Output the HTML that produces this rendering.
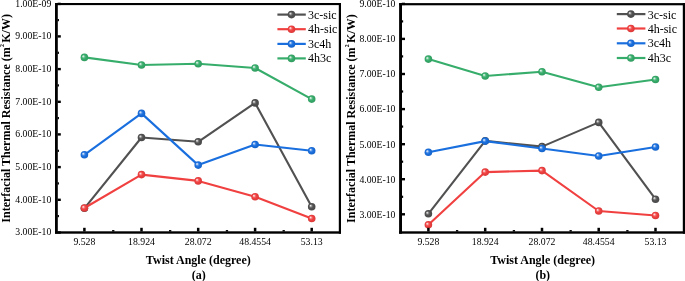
<!DOCTYPE html>
<html lang="en"><head><meta charset="utf-8"><title>Interfacial Thermal Resistance vs Twist Angle</title>
<style>html,body{margin:0;padding:0;background:#fff}body{width:685px;height:281px;overflow:hidden}svg{display:block;filter:blur(0.3px)}
text{font-family:"Liberation Serif","Times New Roman",serif;fill:#000}.tk{font-size:9.75px}.lg{font-size:12px}.ti{font-size:12px;font-weight:bold}</style></head><body>
<svg width="700" height="291" viewBox="0 0 700 291">
<defs>
<radialGradient id="sk" cx="0.5" cy="0.5" r="0.55" fx="0.32" fy="0.33"><stop offset="0" stop-color="#f1f1f1"/><stop offset="0.15" stop-color="#c7c7c7"/><stop offset="0.32" stop-color="#777777"/><stop offset="0.52" stop-color="#515151"/><stop offset="1" stop-color="#474747"/></radialGradient>
<radialGradient id="sr" cx="0.5" cy="0.5" r="0.55" fx="0.32" fy="0.33"><stop offset="0" stop-color="#fef0f0"/><stop offset="0.15" stop-color="#fbc2c2"/><stop offset="0.32" stop-color="#f46a6a"/><stop offset="0.52" stop-color="#F14040"/><stop offset="1" stop-color="#d43838"/></radialGradient>
<radialGradient id="sb" cx="0.5" cy="0.5" r="0.55" fx="0.32" fy="0.33"><stop offset="0" stop-color="#edf3fc"/><stop offset="0.15" stop-color="#b6d1f5"/><stop offset="0.32" stop-color="#4c8fe6"/><stop offset="0.52" stop-color="#1A6FDF"/><stop offset="1" stop-color="#1762c4"/></radialGradient>
<radialGradient id="sg" cx="0.5" cy="0.5" r="0.55" fx="0.32" fy="0.33"><stop offset="0" stop-color="#eff8f3"/><stop offset="0.15" stop-color="#bfe5d0"/><stop offset="0.32" stop-color="#63bf8c"/><stop offset="0.52" stop-color="#37AD6B"/><stop offset="1" stop-color="#30985e"/></radialGradient>
<radialGradient id="hl" cx="0.5" cy="0.5" r="0.5"><stop offset="0" stop-color="#fff" stop-opacity="0.85"/><stop offset="0.45" stop-color="#fff" stop-opacity="0.6"/><stop offset="1" stop-color="#fff" stop-opacity="0"/></radialGradient>
</defs>
<rect width="700" height="291" fill="#fff"/>
<g>
<polyline points="84.40,208.30 141.50,137.50 198.20,141.80 255.10,102.90 311.70,206.80" fill="none" stroke="#515151" stroke-width="2.1" stroke-linejoin="round"/>
<circle cx="84.40" cy="208.30" r="3.80" fill="url(#sk)"/>
<circle cx="141.50" cy="137.50" r="3.80" fill="url(#sk)"/>
<circle cx="198.20" cy="141.80" r="3.80" fill="url(#sk)"/>
<circle cx="255.10" cy="102.90" r="3.80" fill="url(#sk)"/>
<circle cx="311.70" cy="206.80" r="3.80" fill="url(#sk)"/>
<polyline points="84.40,208.00 141.50,174.60 198.20,180.90 255.10,196.80 311.70,218.50" fill="none" stroke="#F14040" stroke-width="2.1" stroke-linejoin="round"/>
<circle cx="84.40" cy="208.00" r="3.80" fill="url(#sr)"/>
<circle cx="141.50" cy="174.60" r="3.80" fill="url(#sr)"/>
<circle cx="198.20" cy="180.90" r="3.80" fill="url(#sr)"/>
<circle cx="255.10" cy="196.80" r="3.80" fill="url(#sr)"/>
<circle cx="311.70" cy="218.50" r="3.80" fill="url(#sr)"/>
<polyline points="84.40,154.80 141.50,113.40 198.20,165.10 255.10,144.50 311.70,150.80" fill="none" stroke="#1A6FDF" stroke-width="2.1" stroke-linejoin="round"/>
<circle cx="84.40" cy="154.80" r="3.80" fill="url(#sb)"/>
<circle cx="141.50" cy="113.40" r="3.80" fill="url(#sb)"/>
<circle cx="198.20" cy="165.10" r="3.80" fill="url(#sb)"/>
<circle cx="255.10" cy="144.50" r="3.80" fill="url(#sb)"/>
<circle cx="311.70" cy="150.80" r="3.80" fill="url(#sb)"/>
<polyline points="84.40,57.40 141.50,65.00 198.20,63.70 255.10,68.00 311.70,99.10" fill="none" stroke="#37AD6B" stroke-width="2.1" stroke-linejoin="round"/>
<circle cx="84.40" cy="57.40" r="3.80" fill="url(#sg)"/>
<circle cx="141.50" cy="65.00" r="3.80" fill="url(#sg)"/>
<circle cx="198.20" cy="63.70" r="3.80" fill="url(#sg)"/>
<circle cx="255.10" cy="68.00" r="3.80" fill="url(#sg)"/>
<circle cx="311.70" cy="99.10" r="3.80" fill="url(#sg)"/>
<rect x="55.00" y="3.00" width="2.80" height="230.70" fill="#000"/>
<rect x="338.80" y="3.00" width="2.20" height="230.70" fill="#000"/>
<rect x="55.00" y="3.00" width="286.00" height="2.10" fill="#000"/>
<rect x="55.00" y="231.30" width="286.00" height="2.40" fill="#000"/>
<rect x="57.60" y="2.70" width="3.2" height="2.4" fill="#000"/>
<text class="tk" x="51.30" y="6.80" text-anchor="end">1.00E-09</text>
<rect x="57.60" y="35.20" width="3.2" height="2.4" fill="#000"/>
<text class="tk" x="51.30" y="39.30" text-anchor="end">9.00E-10</text>
<rect x="57.60" y="67.90" width="3.2" height="2.4" fill="#000"/>
<text class="tk" x="51.30" y="72.00" text-anchor="end">8.00E-10</text>
<rect x="57.60" y="100.60" width="3.2" height="2.4" fill="#000"/>
<text class="tk" x="51.30" y="104.70" text-anchor="end">7.00E-10</text>
<rect x="57.60" y="133.20" width="3.2" height="2.4" fill="#000"/>
<text class="tk" x="51.30" y="137.30" text-anchor="end">6.00E-10</text>
<rect x="57.60" y="165.90" width="3.2" height="2.4" fill="#000"/>
<text class="tk" x="51.30" y="170.00" text-anchor="end">5.00E-10</text>
<rect x="57.60" y="198.60" width="3.2" height="2.4" fill="#000"/>
<text class="tk" x="51.30" y="202.70" text-anchor="end">4.00E-10</text>
<rect x="57.60" y="231.30" width="3.2" height="2.4" fill="#000"/>
<text class="tk" x="51.30" y="235.40" text-anchor="end">3.00E-10</text>
<rect x="57.60" y="19.00" width="1.35" height="2.2" fill="#000"/>
<rect x="57.60" y="51.70" width="1.35" height="2.2" fill="#000"/>
<rect x="57.60" y="84.30" width="1.35" height="2.2" fill="#000"/>
<rect x="57.60" y="117.00" width="1.35" height="2.2" fill="#000"/>
<rect x="57.60" y="149.70" width="1.35" height="2.2" fill="#000"/>
<rect x="57.60" y="182.30" width="1.35" height="2.2" fill="#000"/>
<rect x="57.60" y="215.00" width="1.35" height="2.2" fill="#000"/>
<rect x="83.15" y="227.80" width="2.5" height="3.7" fill="#000"/>
<text class="tk" x="84.40" y="245.40" text-anchor="middle">9.528</text>
<rect x="140.25" y="227.80" width="2.5" height="3.7" fill="#000"/>
<text class="tk" x="141.50" y="245.40" text-anchor="middle">18.924</text>
<rect x="196.95" y="227.80" width="2.5" height="3.7" fill="#000"/>
<text class="tk" x="198.20" y="245.40" text-anchor="middle">28.072</text>
<rect x="253.85" y="227.80" width="2.5" height="3.7" fill="#000"/>
<text class="tk" x="255.10" y="245.40" text-anchor="middle">48.4554</text>
<rect x="310.45" y="227.80" width="2.5" height="3.7" fill="#000"/>
<text class="tk" x="311.70" y="245.40" text-anchor="middle">53.13</text>
<rect x="112.10" y="230.05" width="2.3" height="1.5" fill="#000"/>
<rect x="169.00" y="230.05" width="2.3" height="1.5" fill="#000"/>
<rect x="225.80" y="230.05" width="2.3" height="1.5" fill="#000"/>
<rect x="282.55" y="230.05" width="2.3" height="1.5" fill="#000"/>
<line x1="277.40" y1="14.60" x2="305.80" y2="14.60" stroke="#515151" stroke-width="2.2"/>
<circle cx="291.50" cy="14.60" r="3.80" fill="url(#sk)"/>
<text class="lg" x="308.00" y="18.80">3c-sic</text>
<line x1="277.40" y1="29.20" x2="305.80" y2="29.20" stroke="#F14040" stroke-width="2.2"/>
<circle cx="291.50" cy="29.20" r="3.80" fill="url(#sr)"/>
<text class="lg" x="308.00" y="32.80">4h-sic</text>
<line x1="277.40" y1="43.90" x2="305.80" y2="43.90" stroke="#1A6FDF" stroke-width="2.2"/>
<circle cx="291.50" cy="43.90" r="3.80" fill="url(#sb)"/>
<text class="lg" x="308.00" y="47.60">3c4h</text>
<line x1="277.40" y1="58.40" x2="305.80" y2="58.40" stroke="#37AD6B" stroke-width="2.2"/>
<circle cx="291.50" cy="58.40" r="3.80" fill="url(#sg)"/>
<text class="lg" x="308.00" y="61.90">4h3c</text>
<text class="ti" x="198.30" y="264.2" text-anchor="middle">Twist Angle (degree)</text>
<text class="ti" x="198.80" y="279.3" text-anchor="middle">(a)</text>
<text class="ti" transform="translate(10.30 118.40) rotate(-90)" text-anchor="middle">Interfacial Thermal Resistance (m<tspan font-size="5.8px" dy="-6.3" dx="0.3">2</tspan><tspan dy="6.3" dx="1.3">K/W)</tspan></text>
</g>
<g>
<polyline points="428.40,213.80 485.20,140.90 542.00,146.60 598.70,122.40 655.50,199.20" fill="none" stroke="#515151" stroke-width="2.1" stroke-linejoin="round"/>
<circle cx="428.40" cy="213.80" r="3.80" fill="url(#sk)"/>
<circle cx="485.20" cy="140.90" r="3.80" fill="url(#sk)"/>
<circle cx="542.00" cy="146.60" r="3.80" fill="url(#sk)"/>
<circle cx="598.70" cy="122.40" r="3.80" fill="url(#sk)"/>
<circle cx="655.50" cy="199.20" r="3.80" fill="url(#sk)"/>
<polyline points="428.40,224.80 485.20,172.10 542.00,170.60 598.70,211.00 655.50,215.50" fill="none" stroke="#F14040" stroke-width="2.1" stroke-linejoin="round"/>
<circle cx="428.40" cy="224.80" r="3.80" fill="url(#sr)"/>
<circle cx="485.20" cy="172.10" r="3.80" fill="url(#sr)"/>
<circle cx="542.00" cy="170.60" r="3.80" fill="url(#sr)"/>
<circle cx="598.70" cy="211.00" r="3.80" fill="url(#sr)"/>
<circle cx="655.50" cy="215.50" r="3.80" fill="url(#sr)"/>
<polyline points="428.40,152.30 485.20,141.10 542.00,148.50 598.70,156.00 655.50,147.00" fill="none" stroke="#1A6FDF" stroke-width="2.1" stroke-linejoin="round"/>
<circle cx="428.40" cy="152.30" r="3.80" fill="url(#sb)"/>
<circle cx="485.20" cy="141.10" r="3.80" fill="url(#sb)"/>
<circle cx="542.00" cy="148.50" r="3.80" fill="url(#sb)"/>
<circle cx="598.70" cy="156.00" r="3.80" fill="url(#sb)"/>
<circle cx="655.50" cy="147.00" r="3.80" fill="url(#sb)"/>
<polyline points="428.40,59.10 485.20,76.00 542.00,71.70 598.70,87.30 655.50,79.50" fill="none" stroke="#37AD6B" stroke-width="2.1" stroke-linejoin="round"/>
<circle cx="428.40" cy="59.10" r="3.80" fill="url(#sg)"/>
<circle cx="485.20" cy="76.00" r="3.80" fill="url(#sg)"/>
<circle cx="542.00" cy="71.70" r="3.80" fill="url(#sg)"/>
<circle cx="598.70" cy="87.30" r="3.80" fill="url(#sg)"/>
<circle cx="655.50" cy="79.50" r="3.80" fill="url(#sg)"/>
<rect x="399.10" y="3.10" width="2.90" height="230.60" fill="#000"/>
<rect x="682.80" y="3.10" width="8.00" height="230.60" fill="#000"/>
<rect x="399.10" y="3.10" width="291.70" height="2.20" fill="#000"/>
<rect x="399.10" y="231.30" width="291.70" height="2.40" fill="#000"/>
<rect x="401.80" y="2.70" width="3.2" height="2.4" fill="#000"/>
<text class="tk" x="395.40" y="7.20" text-anchor="end">9.00E-10</text>
<rect x="401.80" y="37.70" width="3.2" height="2.4" fill="#000"/>
<text class="tk" x="395.40" y="42.20" text-anchor="end">8.00E-10</text>
<rect x="401.80" y="72.80" width="3.2" height="2.4" fill="#000"/>
<text class="tk" x="395.40" y="77.30" text-anchor="end">7.00E-10</text>
<rect x="401.80" y="107.90" width="3.2" height="2.4" fill="#000"/>
<text class="tk" x="395.40" y="112.40" text-anchor="end">6.00E-10</text>
<rect x="401.80" y="143.00" width="3.2" height="2.4" fill="#000"/>
<text class="tk" x="395.40" y="147.50" text-anchor="end">5.00E-10</text>
<rect x="401.80" y="178.00" width="3.2" height="2.4" fill="#000"/>
<text class="tk" x="395.40" y="182.50" text-anchor="end">4.00E-10</text>
<rect x="401.80" y="213.10" width="3.2" height="2.4" fill="#000"/>
<text class="tk" x="395.40" y="217.60" text-anchor="end">3.00E-10</text>
<rect x="401.80" y="20.30" width="1.35" height="2.2" fill="#000"/>
<rect x="401.80" y="55.30" width="1.35" height="2.2" fill="#000"/>
<rect x="401.80" y="90.40" width="1.35" height="2.2" fill="#000"/>
<rect x="401.80" y="125.50" width="1.35" height="2.2" fill="#000"/>
<rect x="401.80" y="160.60" width="1.35" height="2.2" fill="#000"/>
<rect x="401.80" y="195.70" width="1.35" height="2.2" fill="#000"/>
<rect x="427.15" y="227.80" width="2.5" height="3.7" fill="#000"/>
<text class="tk" x="428.40" y="245.40" text-anchor="middle">9.528</text>
<rect x="483.95" y="227.80" width="2.5" height="3.7" fill="#000"/>
<text class="tk" x="485.20" y="245.40" text-anchor="middle">18.924</text>
<rect x="540.75" y="227.80" width="2.5" height="3.7" fill="#000"/>
<text class="tk" x="542.00" y="245.40" text-anchor="middle">28.072</text>
<rect x="597.45" y="227.80" width="2.5" height="3.7" fill="#000"/>
<text class="tk" x="598.70" y="245.40" text-anchor="middle">48.4554</text>
<rect x="654.25" y="227.80" width="2.5" height="3.7" fill="#000"/>
<text class="tk" x="655.50" y="245.40" text-anchor="middle">53.13</text>
<rect x="455.95" y="230.05" width="2.3" height="1.5" fill="#000"/>
<rect x="512.75" y="230.05" width="2.3" height="1.5" fill="#000"/>
<rect x="569.50" y="230.05" width="2.3" height="1.5" fill="#000"/>
<rect x="626.25" y="230.05" width="2.3" height="1.5" fill="#000"/>
<line x1="616.80" y1="14.10" x2="645.40" y2="14.10" stroke="#515151" stroke-width="2.2"/>
<circle cx="630.90" cy="14.10" r="3.80" fill="url(#sk)"/>
<text class="lg" x="647.70" y="18.70">3c-sic</text>
<line x1="616.80" y1="28.50" x2="645.40" y2="28.50" stroke="#F14040" stroke-width="2.2"/>
<circle cx="630.90" cy="28.50" r="3.80" fill="url(#sr)"/>
<text class="lg" x="647.70" y="32.70">4h-sic</text>
<line x1="616.80" y1="43.30" x2="645.40" y2="43.30" stroke="#1A6FDF" stroke-width="2.2"/>
<circle cx="630.90" cy="43.30" r="3.80" fill="url(#sb)"/>
<text class="lg" x="647.70" y="47.30">3c4h</text>
<line x1="616.80" y1="58.00" x2="645.40" y2="58.00" stroke="#37AD6B" stroke-width="2.2"/>
<circle cx="630.90" cy="58.00" r="3.80" fill="url(#sg)"/>
<text class="lg" x="647.70" y="61.70">4h3c</text>
<text class="ti" x="542.60" y="264.2" text-anchor="middle">Twist Angle (degree)</text>
<text class="ti" x="542.80" y="279.3" text-anchor="middle">(b)</text>
<text class="ti" transform="translate(354.90 118.60) rotate(-90)" text-anchor="middle">Interfacial Thermal Resistance (m<tspan font-size="5.8px" dy="-6.3" dx="0.3">2</tspan><tspan dy="6.3" dx="1.3">K/W)</tspan></text>
</g>
</svg></body></html>
